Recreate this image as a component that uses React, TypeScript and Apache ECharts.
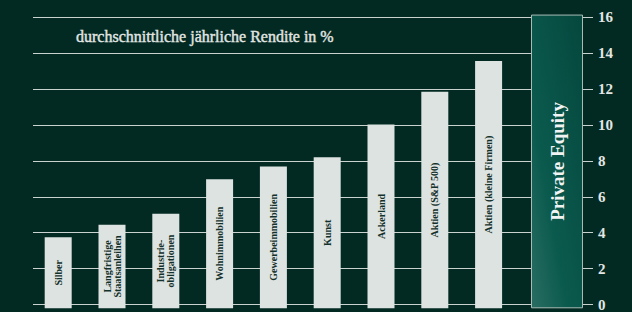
import React, { useEffect, useRef } from "react";
import * as echarts from "echarts";

const categories = [
  "Silber",
  "Langfristige\nStaatsanleihen",
  "Industrie-\nobligationen",
  "Wohnimmobilien",
  "Gewerbeimmobilien",
  "Kunst",
  "Ackerland",
  "Aktien (S&P 500)",
  "Aktien (kleine Firmen)",
];
const values = [3.9, 4.6, 5.2, 7.1, 7.8, 8.3, 10.1, 11.9, 13.6];
const peCategory = ["Private Equity"];
const peValue = [16.15];
const title = "durchschnittliche jährliche Rendite in %";
const yMin = 0;
const yMax = 16;
const yInterval = 2;

const SERIF = "'Liberation Serif', 'DejaVu Serif', serif";

export default function App() {
  const ref = useRef<HTMLDivElement>(null);
  useEffect(() => {
    if (!ref.current) return;
    const chart = echarts.init(ref.current, null, { renderer: "svg" });
    const top = 17.3;
    const bottom = 312 - 308.3;
    chart.setOption({
      animation: false,
      backgroundColor: "#032a22",
      title: {
        text: title,
        left: 71,
        top: 23,
        textStyle: {
          color: "#e2e7e4",
          fontFamily: SERIF,
          fontSize: 16,
          fontWeight: "normal",
          textBorderColor: "#e2e7e4",
          textBorderWidth: 0.4,
        },
      },
      grid: [
        { left: 33, right: 39, top, bottom },
        { left: 31.3, width: 484.2, top, bottom },
        { left: 531, width: 52, top, bottom },
      ],
      xAxis: [
        { type: "value", gridIndex: 0, show: false, min: 0, max: 1, splitLine: { show: false } },
        { type: "category", gridIndex: 1, data: categories, show: false },
        { type: "category", gridIndex: 2, data: peCategory, show: false },
      ],
      yAxis: [
        {
          type: "value",
          gridIndex: 0,
          position: "right",
          min: yMin,
          max: yMax,
          interval: yInterval,
          axisLine: { show: false },
          axisTick: { show: false },
          splitLine: { show: true, lineStyle: { color: "#c9d2ce", width: 1 } },
          axisLabel: {
            color: "#e2e6e4",
            fontFamily: SERIF,
            fontWeight: "bold",
            fontSize: 15,
            margin: 5,
          },
        },
        { type: "value", gridIndex: 1, min: yMin, max: yMax, show: false, splitLine: { show: false } },
        { type: "value", gridIndex: 2, min: yMin, max: yMax, show: false, splitLine: { show: false } },
      ],
      series: [
        {
          type: "bar",
          xAxisIndex: 1,
          yAxisIndex: 1,
          data: values,
          barWidth: 27,
          itemStyle: { color: "#dce3e0" },
          label: {
            show: true,
            position: "inside",
            rotate: 90,
            formatter: (p: any) => p.name,
            color: "#14302a",
            fontFamily: SERIF,
            fontWeight: "bold",
            fontSize: 10,
            lineHeight: 10,
          },
        },
        {
          type: "bar",
          xAxisIndex: 2,
          yAxisIndex: 2,
          data: peValue,
          barWidth: 52,
          clip: false,
          itemStyle: {
            color: new echarts.graphic.LinearGradient(0, 1, 1, 0, [
              { offset: 0, color: "#2a6d62" },
              { offset: 0.35, color: "#0b5a4e" },
              { offset: 1, color: "#05473d" },
            ]),
            borderColor: "#a7bcb5",
            borderWidth: 1,
          },
          label: {
            show: true,
            position: "inside",
            rotate: 90,
            formatter: (p: any) => p.name,
            color: "#f2f4f3",
            fontFamily: SERIF,
            fontWeight: "bold",
            fontSize: 19,
          },
        },
      ],
    });
    return () => chart.dispose();
  }, []);
  return (
    <div
      ref={ref}
      style={{ position: "fixed", left: 0, top: 0, width: 632, height: 312 }}
    />
  );
}
